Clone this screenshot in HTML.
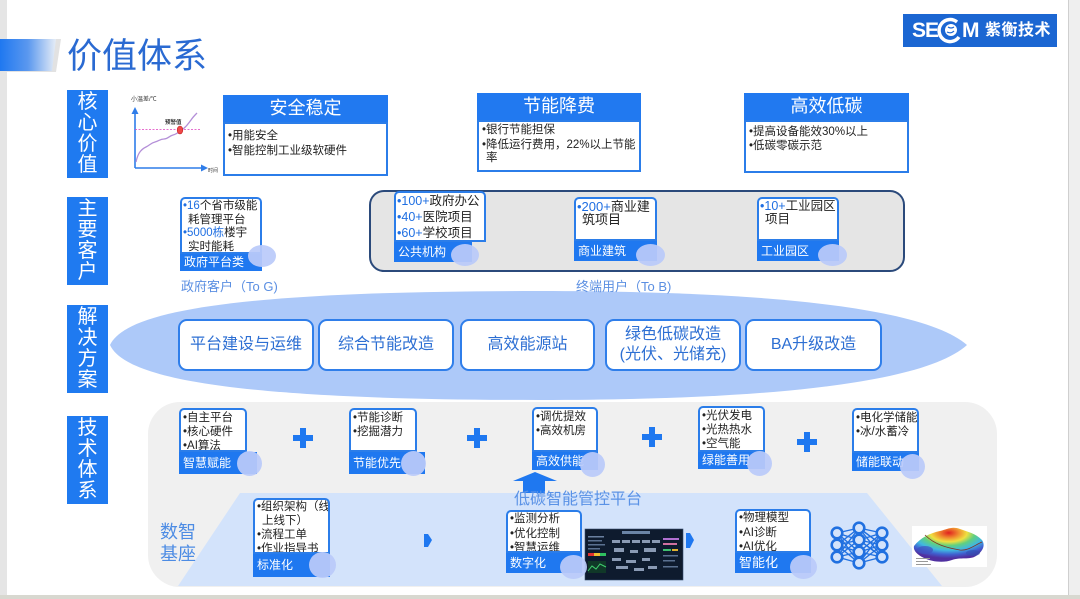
<!DOCTYPE html>
<html><head><meta charset="utf-8">
<style>
*{margin:0;padding:0;box-sizing:border-box}
body{width:1080px;height:599px;overflow:hidden;background:#fff;font-family:"Liberation Sans","Noto Sans CJK SC",sans-serif;position:relative}
.a{position:absolute}
.lab{position:absolute;left:67px;width:41px;height:88px;background:#1f7af0;color:#fff;font-size:20px;line-height:21px;text-align:center;padding-top:2px;overflow:hidden}
.vh{height:27px;background:#2179f0;color:#fff;font-size:18px;line-height:27px;text-align:center}
.vb{border:2px solid #2b7de9;background:#fff;font-size:11.5px;color:#222;padding:3px 3px;white-space:nowrap}
.cb{position:absolute;background:#fff;border:2px solid #2b7de9;border-radius:5px 5px 0 0;color:#222;white-space:nowrap;overflow:hidden}
.cf{position:absolute;background:#1f78f0;color:#fff;font-size:12px;padding-left:4px;white-space:nowrap}
.cc{position:absolute;border-radius:50%;background:rgba(186,202,250,.93)}
.bl{color:#1f6fe2}
.btn{position:absolute;top:319px;height:52px;border:2px solid #2f7eea;border-radius:9px;background:#fff;color:#2d6fd3;font-size:16px;text-align:center;display:flex;align-items:center;justify-content:center;line-height:20px}
.plus{position:absolute;width:20px;height:20px}
.plus:before{content:"";position:absolute;left:7px;top:0;width:6px;height:20px;background:#1f78f0}
.plus:after{content:"";position:absolute;left:0;top:7px;width:20px;height:6px;background:#1f78f0}
.t1{font-size:11.5px;line-height:14px;padding:0 0 0 2px}
.ind{padding-left:5px}
</style></head><body>

<svg class="a" style="left:0;top:0" width="1080" height="599">
<defs>
<linearGradient id="tg" x1="0" x2="1" y1="0" y2="0"><stop offset="0" stop-color="#1f78f0"/><stop offset=".5" stop-color="#5b98ef"/><stop offset="1" stop-color="#e6edf6"/></linearGradient>
<radialGradient id="sg" cx="0.5" cy="0.15" r="0.75"><stop offset="0" stop-color="#e02020"/><stop offset=".2" stop-color="#f09030"/><stop offset=".35" stop-color="#f0e040"/><stop offset=".5" stop-color="#60d080"/><stop offset=".68" stop-color="#40b8e0"/><stop offset=".85" stop-color="#4060d0"/><stop offset="1" stop-color="#5030a0"/></radialGradient>
</defs>
<rect x="0" y="0" width="7" height="599" fill="#e5e5e5"/>
<rect x="1068" y="0" width="12" height="599" fill="#efefef"/>
<line x1="1068.5" y1="0" x2="1068.5" y2="599" stroke="#cfcfcf"/>
<rect x="0" y="595" width="1080" height="4" fill="#d8d8d0"/>
<polygon points="0,39 61,39 56,72 0,72" fill="#e2e2e2"/>
<polygon points="0,39 56,39 52,71 0,71" fill="url(#tg)"/>

<!-- chart -->
<text x="131" y="101" font-size="6" fill="#333" font-family="Liberation Sans,Noto Sans CJK SC,sans-serif">小温差/℃</text>
<line x1="135" y1="113" x2="135" y2="168" stroke="#2f7de9" stroke-width="1.6"/>
<polygon points="135,107 131.5,114 138.5,114" fill="#2f7de9"/>
<line x1="135" y1="168" x2="202" y2="168" stroke="#2f7de9" stroke-width="1.6"/>
<polygon points="208,168 201,164.5 201,171.5" fill="#2f7de9"/>
<text x="208" y="172" font-size="5" fill="#333" font-family="Liberation Sans,Noto Sans CJK SC,sans-serif">时间</text>
<line x1="135" y1="129.5" x2="201" y2="129.5" stroke="#e040c0" stroke-dasharray="2,1.5" stroke-width="0.8"/>
<path d="M136,162 C138,152 142,149 146,147 C150,145 151,143 155,142 C159,141 160,139 164,139 C168,139 169,136 173,135 C177,134 179,132 183,129 C187,126 188,124 191,120 C193,117 195,115 197,113" stroke="#b48fd8" stroke-width="1.3" fill="none"/>
<ellipse cx="180" cy="130" rx="2.8" ry="4" fill="#f04848" stroke="#c02020" stroke-width=".6"/>
<text x="165" y="124" font-size="5.5" font-weight="bold" fill="#333" font-family="Liberation Sans,Noto Sans CJK SC,sans-serif">预警值</text>

<!-- customers box -->
<rect x="370" y="191" width="534" height="80" rx="14" fill="#e5e5e5" stroke="#2b4a7b" stroke-width="2"/>

<!-- solution ellipse -->
<path d="M110,345 C128,305 280,291 540,291 C770,291 925,308 967,345 C925,383 770,400 540,400 C280,400 128,385 110,345 Z" fill="#adc9f9"/>

<!-- tech container -->
<rect x="148" y="402" width="849" height="185" rx="32" fill="#f0f0f0"/>
<polygon points="240,493 867,493 942,586 178,586" fill="#d3e3fb"/>

<!-- up arrow -->
<polygon points="535,472 557,481 545,481 545,493 523,493 523,481 513,481" fill="#1f78f0"/>
<!-- small right arrows -->
<polygon points="424,534 428,534 432,540 428,547 424,547" fill="#1f78f0"/>
<polygon points="686,533 690,533 694,540 690,548 686,548" fill="#1f78f0"/>

<!-- dashboard -->
<rect x="585" y="529" width="98" height="51" fill="#0e1b2e" stroke="#3a5070" stroke-width=".6"/>
<rect x="622" y="531" width="28" height="3" fill="#6a84a6"/>
<rect x="588" y="536" width="16" height="1.5" fill="#6a80a0"/>
<rect x="588" y="540" width="14" height="1.5" fill="#5a7090"/>
<rect x="588" y="544" width="17" height="1.5" fill="#5a7090"/>
<rect x="588" y="548" width="12" height="1.5" fill="#5a7090"/>
<rect x="588" y="553" width="6" height="3" fill="#e03030"/><rect x="594" y="553" width="6" height="3" fill="#f0c030"/><rect x="600" y="553" width="6" height="3" fill="#30c060"/>
<rect x="588" y="561" width="18" height="12" fill="#103828"/>
<path d="M588,571 L592,566 L596,569 L600,564 L606,567" stroke="#40d070" stroke-width="1" fill="none"/>
<g fill="#8a9ab4">
<rect x="612" y="540" width="8" height="3"/><rect x="622" y="540" width="8" height="3"/><rect x="632" y="540" width="8" height="3"/><rect x="642" y="540" width="8" height="3"/><rect x="652" y="540" width="8" height="3"/>
<rect x="614" y="548" width="10" height="4"/><rect x="630" y="550" width="8" height="3"/><rect x="644" y="548" width="12" height="4"/>
<rect x="612" y="558" width="9" height="3"/><rect x="626" y="560" width="10" height="3"/><rect x="642" y="558" width="8" height="3"/>
<rect x="616" y="566" width="12" height="3"/><rect x="634" y="568" width="10" height="3"/><rect x="648" y="566" width="9" height="3"/>
</g>
<rect x="663" y="538" width="16" height="2" fill="#b070d0"/><rect x="663" y="543" width="14" height="2" fill="#d070a0"/>
<rect x="663" y="549" width="8" height="2" fill="#40c070"/><rect x="672" y="549" width="6" height="2" fill="#e0b030"/>
<rect x="663" y="555" width="15" height="1.5" fill="#5a7090"/><rect x="663" y="560" width="12" height="1.5" fill="#5a7090"/><rect x="663" y="566" width="15" height="1.5" fill="#5a7090"/>

<!-- neural net -->
<g stroke="#2070e0" stroke-width="1.4">
<line x1="837" y1="533" x2="859" y2="528"/><line x1="837" y1="533" x2="859" y2="540"/><line x1="837" y1="533" x2="859" y2="552"/><line x1="837" y1="533" x2="859" y2="563"/>
<line x1="837" y1="545" x2="859" y2="528"/><line x1="837" y1="545" x2="859" y2="540"/><line x1="837" y1="545" x2="859" y2="552"/><line x1="837" y1="545" x2="859" y2="563"/>
<line x1="837" y1="557" x2="859" y2="528"/><line x1="837" y1="557" x2="859" y2="540"/><line x1="837" y1="557" x2="859" y2="552"/><line x1="837" y1="557" x2="859" y2="563"/>
<line x1="882" y1="533" x2="859" y2="528"/><line x1="882" y1="533" x2="859" y2="540"/><line x1="882" y1="533" x2="859" y2="552"/><line x1="882" y1="533" x2="859" y2="563"/>
<line x1="882" y1="545" x2="859" y2="528"/><line x1="882" y1="545" x2="859" y2="540"/><line x1="882" y1="545" x2="859" y2="552"/><line x1="882" y1="545" x2="859" y2="563"/>
<line x1="882" y1="557" x2="859" y2="528"/><line x1="882" y1="557" x2="859" y2="540"/><line x1="882" y1="557" x2="859" y2="552"/><line x1="882" y1="557" x2="859" y2="563"/>
</g>
<g stroke="#2070e0" stroke-width="2.6" fill="#d3e3fb">
<circle cx="837" cy="533" r="5.3"/><circle cx="837" cy="545" r="5.3"/><circle cx="837" cy="557" r="5.3"/>
<circle cx="859" cy="528" r="5.3"/><circle cx="859" cy="540" r="5.3"/><circle cx="859" cy="552" r="5.3"/><circle cx="859" cy="563" r="5.3"/>
<circle cx="882" cy="533" r="5.3"/><circle cx="882" cy="545" r="5.3"/><circle cx="882" cy="557" r="5.3"/>
</g>

<!-- surface plot -->
<rect x="912" y="526" width="75" height="41" fill="#fff"/>
<path d="M914,546 C920,538 930,533 940,531 C948,529 952,526 960,529 C968,532 975,533 982,540 C986,546 982,552 976,556 C970,560 960,557 952,560 C944,563 932,562 924,558 C918,555 913,551 914,546 Z" fill="url(#sg)"/>
<ellipse cx="925" cy="550" rx="8" ry="4" fill="#4050c0" opacity=".7"/>
<ellipse cx="973" cy="553" rx="7" ry="3" fill="#3050b0" opacity=".6"/>
<path d="M925,535 C935,545 948,548 960,550 C968,551 975,545 982,542" stroke="#803020" stroke-width=".8" fill="none"/>
<rect x="916" y="558" width="14" height="1" fill="#999"/><rect x="916" y="561" width="12" height="1" fill="#999"/><rect x="916" y="564" width="15" height="1" fill="#999"/>
</svg>

<!-- logo -->
<div class="a" style="left:903px;top:14px;width:154px;height:33px;background:#1b66d2;color:#fff;font-weight:bold">
  <div class="a" style="left:9px;top:4px;font-size:21px;line-height:25px;letter-spacing:-1px">SE</div>
  <svg class="a" style="left:34px;top:3px" width="26" height="27"><path d="M20,5 A11,11 0 1 0 22,20" stroke="#fff" stroke-width="3.5" fill="none"/><circle cx="14" cy="13" r="6" fill="#fff"/><path d="M11,10 q3,2 6,0 M10,15 q4,2 7,-1" stroke="#1b66d2" stroke-width="1.2" fill="none"/></svg>
  <div class="a" style="left:59px;top:4px;font-size:21px;line-height:25px">M</div>
  <div class="a" style="left:82px;top:6px;font-size:16px;line-height:21px;letter-spacing:.5px">紫衡技术</div>
</div>

<!-- title -->
<div class="a" style="left:67px;top:36px;font-size:35px;line-height:42px;color:#2a6ad2">价值体系</div>

<!-- row labels -->
<div class="lab" style="top:90px">核<br>心<br>价<br>值</div>
<div class="lab" style="top:197px">主<br>要<br>客<br>户</div>
<div class="lab" style="top:305px">解<br>决<br>方<br>案</div>
<div class="lab" style="top:416px">技<br>术<br>体<br>系</div>

<!-- core value boxes -->
<div class="a" style="left:223px;top:95px;width:165px">
  <div class="vh">安全稳定</div>
  <div class="vb" style="height:54px;line-height:15px;padding-top:5px">•用能安全<br>•智能控制工业级软硬件</div>
</div>
<div class="a" style="left:477px;top:93px;width:164px">
  <div class="vh">节能降费</div>
  <div class="vb" style="height:52px;line-height:13px;padding-top:2px">•银行节能担保<br><span style="display:block;height:2px"></span>•降低运行费用，22%以上节能<br><span style="padding-left:4px">率</span></div>
</div>
<div class="a" style="left:744px;top:93px;width:165px">
  <div class="vh">高效低碳</div>
  <div class="vb" style="height:53px;line-height:14px;padding-top:3px">•提高设备能效30%以上<br>•低碳零碳示范</div>
</div>

<!-- customers -->
<div class="cb" style="left:180px;top:197px;width:82px;height:57px;font-size:11.5px;line-height:13.5px;padding:1px 0 0 1px"><span class="bl">•16</span>个省市级能<br><span class="ind">耗管理平台</span><br><span class="bl">•5000栋</span>楼宇<br><span class="ind">实时能耗</span></div>
<div class="cf" style="left:180px;top:254px;width:82px;height:17px;line-height:17px">政府平台类</div>
<div class="cc" style="left:248px;top:245px;width:28px;height:22px"></div>
<div class="a" style="left:181px;top:278px;font-size:13px;line-height:17px;color:#5b8fe2">政府客户（To G)</div>

<div class="cb" style="left:394px;top:191px;width:92px;height:51px;font-size:12.5px;line-height:16px;padding:0 0 0 1px"><span class="bl">•100+</span>政府办公<br><span class="bl">•40+</span>医院项目<br><span class="bl">•60+</span>学校项目</div>
<div class="cf" style="left:394px;top:242px;width:78px;height:20px;line-height:20px">公共机构</div>
<div class="cc" style="left:451px;top:244px;width:28px;height:22px"></div>

<div class="cb" style="left:574px;top:197px;width:83px;height:44px;font-size:13px;line-height:13px;padding:1px 0 0 1px"><span class="bl">•200+</span>商业建<br><span class="ind">筑项目</span></div>
<div class="cf" style="left:574px;top:241px;width:83px;height:20px;line-height:20px">商业建筑</div>
<div class="cc" style="left:636px;top:244px;width:29px;height:22px"></div>

<div class="cb" style="left:757px;top:197px;width:82px;height:44px;font-size:12.5px;line-height:13px;padding:1px 0 0 1px"><span class="bl">•10+</span>工业园区<br><span class="ind">项目</span></div>
<div class="cf" style="left:757px;top:241px;width:82px;height:20px;line-height:20px">工业园区</div>
<div class="cc" style="left:818px;top:244px;width:29px;height:22px"></div>
<div class="a" style="left:576px;top:278px;font-size:13px;line-height:17px;color:#5b8fe2">终端用户（To B)</div>

<!-- solutions -->
<div class="btn" style="left:178px;width:136px">平台建设与运维</div>
<div class="btn" style="left:318px;width:136px">综合节能改造</div>
<div class="btn" style="left:460px;width:135px">高效能源站</div>
<div class="btn" style="left:605px;width:136px">绿色低碳改造<br>(光伏、光储充)</div>
<div class="btn" style="left:745px;width:137px">BA升级改造</div>

<!-- tech cards -->
<div class="cb t1" style="left:179px;top:408px;width:68px;height:44px;padding-top:1px">•自主平台<br>•核心硬件<br>•AI算法</div>
<div class="cf" style="left:179px;top:452px;width:78px;height:22px;line-height:22px">智慧赋能</div>
<div class="cc" style="left:237px;top:451px;width:25px;height:25px"></div>

<div class="cb t1" style="left:349px;top:408px;width:68px;height:44px;padding-top:1px">•节能诊断<br>•挖掘潜力</div>
<div class="cf" style="left:349px;top:452px;width:76px;height:22px;line-height:22px">节能优先</div>
<div class="cc" style="left:401px;top:451px;width:25px;height:25px"></div>

<div class="cb t1" style="left:532px;top:407px;width:66px;height:45px;padding-top:1px">•调优提效<br>•高效机房</div>
<div class="cf" style="left:532px;top:452px;width:66px;height:18px;line-height:18px">高效供能</div>
<div class="cc" style="left:580px;top:452px;width:25px;height:25px"></div>

<div class="cb t1" style="left:698px;top:406px;width:67px;height:46px;padding-top:1px">•光伏发电<br>•光热热水<br>•空气能</div>
<div class="cf" style="left:698px;top:452px;width:67px;height:17px;line-height:17px">绿能善用</div>
<div class="cc" style="left:747px;top:451px;width:25px;height:25px"></div>

<div class="cb t1" style="left:852px;top:408px;width:67px;height:45px;padding-top:1px">•电化学储能<br>•冰/水蓄冷</div>
<div class="cf" style="left:852px;top:453px;width:67px;height:18px;line-height:18px">储能联动</div>
<div class="cc" style="left:900px;top:454px;width:25px;height:25px"></div>

<div class="plus" style="left:293px;top:428px"></div>
<div class="plus" style="left:467px;top:428px"></div>
<div class="plus" style="left:642px;top:427px"></div>
<div class="plus" style="left:797px;top:432px"></div>

<div class="a" style="left:514px;top:490px;font-size:16px;line-height:20px;color:#5a92e6">低碳智能管控平台</div>
<div class="a" style="left:160px;top:521px;font-size:18px;line-height:22px;color:#4d8ce4">数智<br>基座</div>

<!-- bottom cards -->
<div class="cb t1" style="left:253px;top:498px;width:77px;height:56px;line-height:14px;padding-top:0">•组织架构（线<br><span class="ind">上线下）</span><br>•流程工单<br>•作业指导书</div>
<div class="cf" style="left:253px;top:554px;width:77px;height:23px;line-height:23px">标准化</div>
<div class="cc" style="left:309px;top:552px;width:27px;height:26px"></div>

<div class="cb t1" style="left:506px;top:510px;width:76px;height:43px;line-height:14.5px;padding-top:0">•监测分析<br>•优化控制<br>•智慧运维</div>
<div class="cf" style="left:506px;top:553px;width:76px;height:20px;line-height:20px">数字化</div>
<div class="cc" style="left:560px;top:555px;width:27px;height:24px"></div>

<div class="cb t1" style="left:735px;top:509px;width:76px;height:44px;line-height:14.5px;padding-top:0">•物理模型<br>•AI诊断<br>•AI优化</div>
<div class="cf" style="left:735px;top:553px;width:76px;height:20px;line-height:20px;font-size:13px">智能化</div>
<div class="cc" style="left:790px;top:555px;width:27px;height:24px"></div>

</body></html>
